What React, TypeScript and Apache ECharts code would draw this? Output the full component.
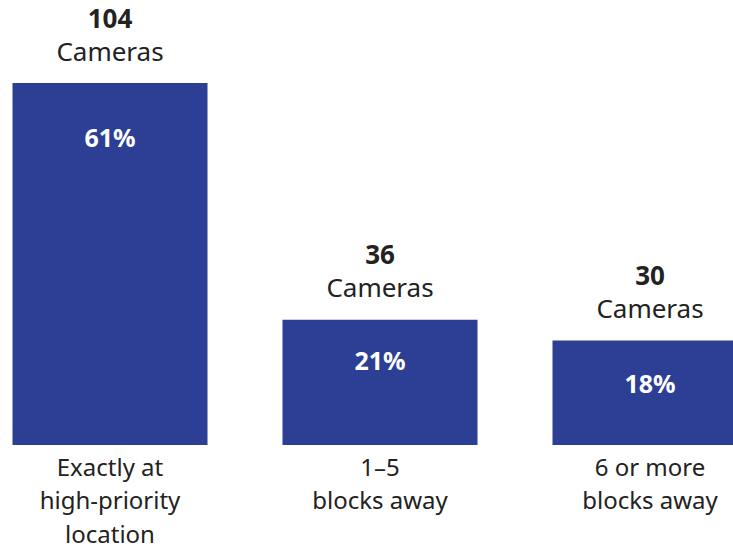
import React, { useEffect, useRef } from "react";
import * as echarts from "echarts";

const categories = ["Exactly at\nhigh-priority\nlocation", "1–5\nblocks away", "6 or more\nblocks away"];
const cameraCounts = [104, 36, 30];
const percentLabels = ["61%", "21%", "18%"];
const percentOffsets = [41, 28, 30];

export default function App() {
  const ref = useRef<HTMLDivElement>(null);
  useEffect(() => {
    const chart = echarts.init(ref.current!, null, { renderer: "svg" });
    const font = "'Noto Sans', sans-serif";
    const narrow = "'Liberation Sans Narrow', 'Noto Sans', sans-serif";
    chart.setOption({
      animation: false,
      grid: { left: 0, right: 0, top: 27.4, bottom: 101.5, containLabel: false },
      xAxis: {
        type: "category",
        data: categories,
        axisLine: { show: false },
        axisTick: { show: false },
        axisLabel: { color: "#222", fontFamily: narrow, fontSize: 24, lineHeight: 33.5, margin: 4.5, interval: 0 },
      },
      yAxis: { type: "value", min: 0, max: 120, show: false, splitLine: { show: false } },
      series: [
        {
          type: "bar",
          barWidth: 195,
          itemStyle: { color: "#2c3f94" },
          data: cameraCounts.map((v, i) => ({
            value: v,
            label: {
              show: true,
              position: "insideTop",
              distance: percentOffsets[i],
              formatter: percentLabels[i],
              color: "#fff",
              fontFamily: font,
              fontWeight: "bold",
              fontSize: 25,
            },
          })),
        },
        {
          type: "bar",
          barGap: "-100%",
          barWidth: 195,
          itemStyle: { color: "transparent" },
          silent: true,
          data: cameraCounts.map((v) => ({
            value: v,
            label: {
              show: true,
              position: "top",
              distance: 16,
              formatter: `{b|${v}}\n{r|Cameras}`,
              rich: {
                b: { fontFamily: font, fontWeight: "bold", fontSize: 26, color: "#222", lineHeight: 33, align: "center" },
                r: { fontFamily: font, fontSize: 26, color: "#222", lineHeight: 33, align: "center" },
              },
            },
          })),
        },
      ],
    });
    return () => chart.dispose();
  }, []);
  return (
    <div style={{ position: "absolute", left: 0, top: 0, width: 733, height: 550, overflow: "hidden" }}>
      <div ref={ref} style={{ position: "absolute", left: -25.5, top: 0, width: 810, height: 550 }} />
    </div>
  );
}
